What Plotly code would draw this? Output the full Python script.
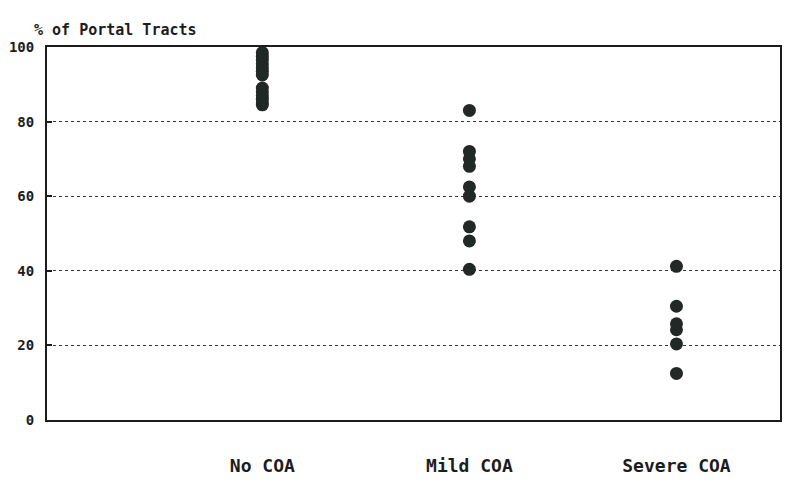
import plotly.graph_objects as go

categories = ["No COA", "Mild COA", "Severe COA"]
no_coa = [98.5, 97.5, 96.5, 95.5, 94.5, 93.5, 92.5, 89, 88, 87, 86, 85, 84.5]
mild_coa = [83, 72, 70, 68, 62.5, 60, 51.8, 48, 40.4]
severe_coa = [41.2, 30.5, 25.8, 24.2, 20.4, 12.5]
y_ticks = [0, 20, 40, 60, 80, 100]

groups = [no_coa, mild_coa, severe_coa]
xs, ys = [], []
for cat, vals in zip(categories, groups):
    xs += [cat] * len(vals)
    ys += vals

FONT = "DejaVu Sans Mono"
INK = "#1c1c1c"

fig = go.Figure()
fig.add_trace(go.Scatter(
    x=xs, y=ys, mode="markers",
    marker=dict(size=13, color="#222826", line=dict(width=0)),
    showlegend=False, hoverinfo="skip", cliponaxis=False,
))

fig.update_layout(
    width=784, height=479,
    margin=dict(l=39, r=12, t=39, b=67, autoexpand=False),
    paper_bgcolor="white", plot_bgcolor="white",
    xaxis=dict(
        type="category", categoryorder="array", categoryarray=categories,
        range=[-1.04, 2.5], showgrid=False, zeroline=False, automargin=False,
        showline=True, mirror=True, linecolor=INK, linewidth=2,
        ticks="", ticklabelstandoff=28,
        tickfont=dict(family=FONT, size=18, color=INK, weight="bold"),
    ),
    yaxis=dict(
        range=[0, 100], tickvals=y_ticks, ticktext=[str(v) for v in y_ticks],
        showgrid=True, gridcolor="#333333", griddash="dot", gridwidth=1,
        zeroline=False, showline=True, mirror=True, linecolor=INK, linewidth=2,
        ticks="inside", ticklen=5, tickwidth=2, tickcolor=INK, automargin=False,
        ticklabelstandoff=8,
        tickfont=dict(family=FONT, size=14, color=INK, weight="bold"),
    ),
    annotations=[dict(
        text="% of Portal Tracts", xref="paper", yref="paper",
        x=-0.02, y=1.046, xanchor="left", yanchor="middle", showarrow=False,
        font=dict(family=FONT, size=15, color=INK, weight="bold"),
    )],
)

fig.write_html("out.html")
